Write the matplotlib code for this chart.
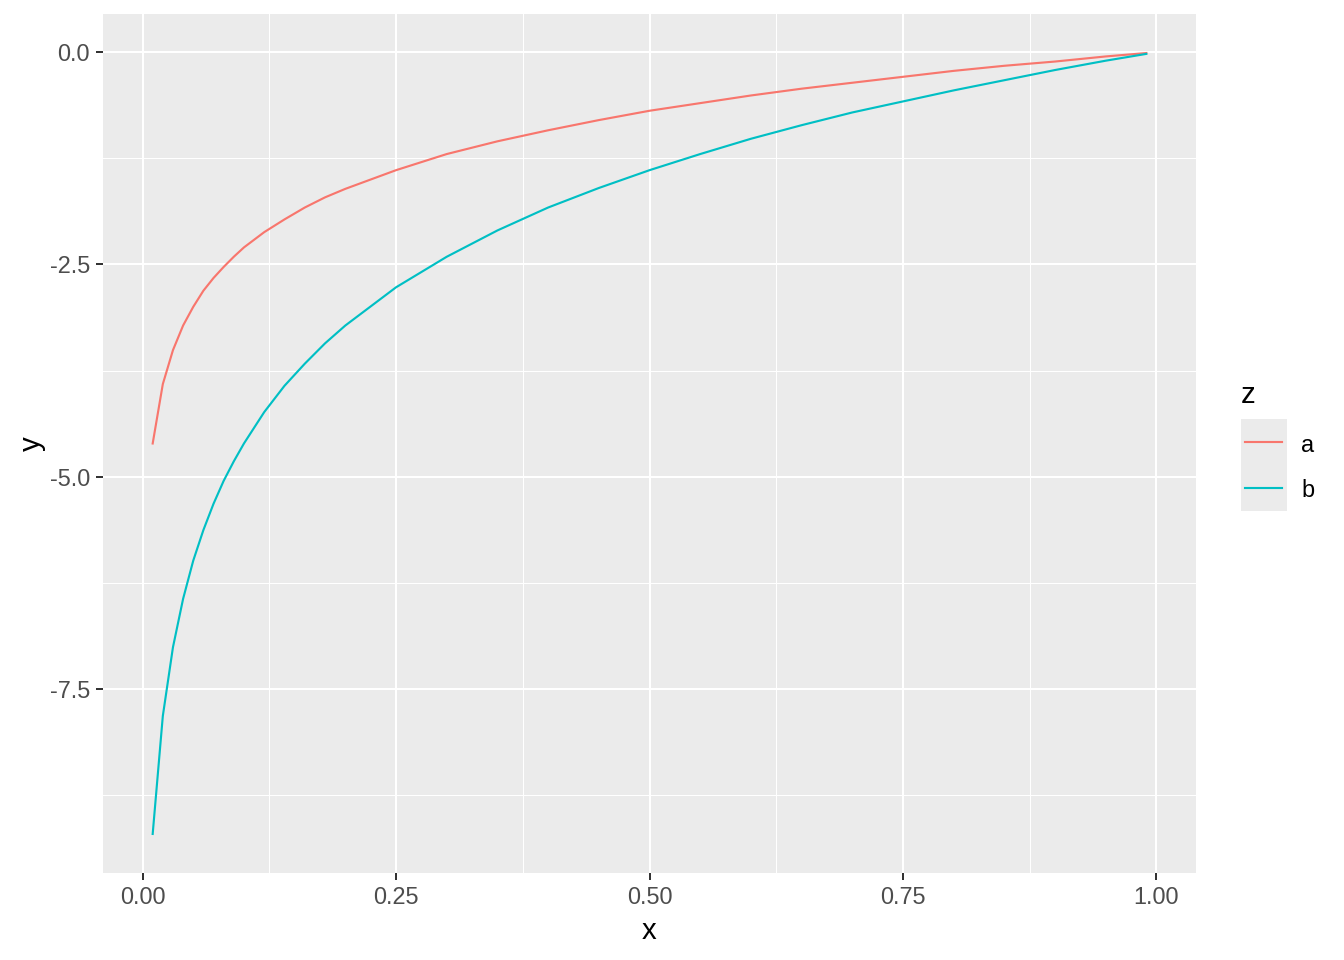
"""Two log-shaped curves, ggplot2 grey theme look."""
import matplotlib

matplotlib.use("Agg")
import matplotlib.pyplot as plt
from matplotlib.lines import Line2D
from matplotlib.patches import Rectangle
from matplotlib.ticker import FixedLocator

plt.rcParams["font.family"] = ["Liberation Sans", "DejaVu Sans"]

# values
x = [0.01, 0.02, 0.03, 0.04, 0.05, 0.06, 0.07, 0.08, 0.09, 0.10,
     0.12, 0.14, 0.16, 0.18, 0.20, 0.25, 0.30, 0.35, 0.40, 0.45,
     0.50, 0.55, 0.60, 0.65, 0.70, 0.75, 0.80, 0.85, 0.90, 0.95, 0.99]
y_a = [-4.61, -3.91, -3.51, -3.22, -3.00, -2.81, -2.66, -2.53, -2.41, -2.30,
       -2.12, -1.97, -1.83, -1.71, -1.61, -1.39, -1.20, -1.05, -0.92, -0.80,
       -0.69, -0.60, -0.51, -0.43, -0.36, -0.29, -0.22, -0.16, -0.11, -0.05, -0.01]
y_b = [-9.21, -7.82, -7.01, -6.44, -5.99, -5.63, -5.32, -5.05, -4.82, -4.61,
       -4.24, -3.93, -3.67, -3.43, -3.22, -2.77, -2.41, -2.10, -1.83, -1.60,
       -1.39, -1.20, -1.02, -0.86, -0.71, -0.58, -0.45, -0.33, -0.21, -0.10, -0.02]
groups = ["a", "b"]
colors = ["#F8766D", "#00BFC4"]
x_ticks = [0.0, 0.25, 0.5, 0.75, 1.0]
x_tick_labels = ["0.00", "0.25", "0.50", "0.75", "1.00"]
y_ticks = [-7.5, -5.0, -2.5, 0.0]
y_tick_labels = ["-7.5", "-5.0", "-2.5", "0.0"]

fig = plt.figure(figsize=(7, 5), dpi=192)
ax = fig.add_axes([103 / 1344, 87 / 960, 1093 / 1344, 859 / 960])
ax.set_facecolor("#EBEBEB")

for ys, col in zip([y_a, y_b], colors):
    ax.plot(x, ys, color=col, lw=0.8, zorder=3)

# expand like ggplot (5% each side)
x_lo, x_hi = min(x), max(x)
y_lo, y_hi = min(y_a + y_b), max(y_a + y_b)
dx, dy = 0.05 * (x_hi - x_lo), 0.05 * (y_hi - y_lo)
ax.set_xlim(x_lo - dx, x_hi + dx)
ax.set_ylim(y_lo - dy, y_hi + dy)

ax.set_xticks(x_ticks)
ax.set_xticklabels(x_tick_labels)
ax.set_yticks(y_ticks)
ax.set_yticklabels(y_tick_labels)
ax.xaxis.set_minor_locator(FixedLocator([0.125, 0.375, 0.625, 0.875]))
ax.yaxis.set_minor_locator(FixedLocator([-8.75, -6.25, -3.75, -1.25]))
ax.grid(which="major", color="white", lw=0.75, zorder=1)
ax.grid(which="minor", color="white", lw=0.38, zorder=1)
ax.set_axisbelow(True)
for s in ax.spines.values():
    s.set_visible(False)
ax.tick_params(which="major", length=2.75, width=0.75, color="#333333",
               labelcolor="#4D4D4D", labelsize=8.8, pad=2.2)
ax.tick_params(which="minor", length=0)
ax.set_xlabel("x", fontsize=11, labelpad=3)
ax.set_ylabel("y", fontsize=11, labelpad=1.5)

# legend drawn by hand: grey key box, labels outside it
W, H = 1344, 960
fig.text(1241 / W, 1 - 395 / H, "z", fontsize=11, ha="left", va="center")
fig.patches.append(Rectangle((1241 / W, 1 - 511 / H), 46 / W, 92 / H,
                             transform=fig.transFigure, facecolor="#EBEBEB",
                             edgecolor="none"))
for i, (g, col) in enumerate(zip(groups, colors)):
    yk = 1 - (442 + 46 * i) / H
    fig.lines.append(Line2D([1245 / W, 1282 / W], [yk, yk], color=col, lw=0.8,
                            transform=fig.transFigure))
    fig.text(1301 / W, yk - 3 / H, g, fontsize=8.8, ha="left", va="center")

fig.savefig("out.png", dpi=192)
